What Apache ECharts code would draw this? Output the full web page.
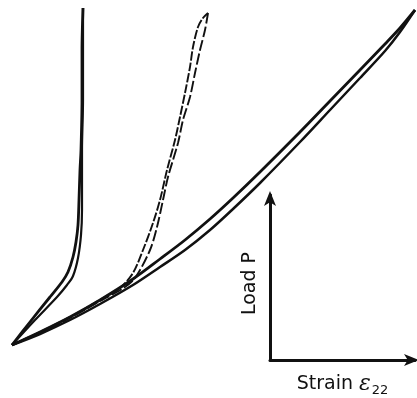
<!DOCTYPE html>
<html><head><meta charset="utf-8">
<script src="https://cdn.jsdelivr.net/npm/echarts@6/dist/echarts.min.js"></script>
<style>html,body{margin:0;padding:0;background:#fff}#c{width:417px;height:398px}</style>
</head><body><div id="c"></div>
<script>
// Schematic units: strain (x) and load (y, measured downward in sketch units, axis inverted)
const curve1Up   = [[12,345],[30,322],[50,297],[62,282],[68,272],[73,257],[76,242],[78,225],[79,200],[80,170],[81,150],[82,100],[82,50],[83,8]];
const curve1Down = [[12,345],[35,320],[57,297],[67,285],[73,276],[78,258],[81,235],[82,210],[82,190],[82,170],[82,150],[83,100],[83,50],[83,8]];
const curve2Up   = [[12,345],[40,332],[70,317],[100,300],[120,288],[133,273],[143,250],[153,223],[160,200],[167,170],[175,140],[180,117],[185,93],[190,67],[193,47],[198,27],[203,18],[208,13]];
const curve2Down = [[12,345],[40,333],[70,318],[100,301],[122,289],[135,278],[150,250],[157,227],[163,200],[168,177],[178,143],[183,120],[190,97],[195,73],[200,50],[205,30],[208,13]];
const curve3Up   = [[12,345],[40,332],[70,317],[100,300],[133,279],[160,259],[185,240],[210,219],[233,198],[260,172],[300,132],[330,101],[360,70],[385,44],[400,28],[415,10]];
const curve3Down = [[12,345],[40,334],[70,320],[100,304],[133,285],[160,267],[185,250],[210,230],[233,209],[260,183],[300,142],[330,110],[360,78],[385,51],[400,32],[415,10]];
const xName = 'Strain';
const yName = 'Load P';

const chart = echarts.init(document.getElementById('c'));
const ln = (d, w, dash) => ({type:'line', xAxisIndex:0, yAxisIndex:0, data:d, showSymbol:false, smooth:0.3,
  lineStyle:{color:'#111', width:w, type: dash || 'solid'}, silent:true, animation:false});
chart.setOption({
  animation:false,
  grid:[{left:0,top:0,width:417,height:398},{left:270,top:195,width:145,height:165}],
  xAxis:[
    {gridIndex:0,type:'value',min:0,max:417,show:false},
    {gridIndex:1,type:'value',min:0,max:1,splitLine:{show:false},axisTick:{show:false},axisLabel:{show:false},
     axisLine:{show:true,onZero:false,symbol:['none','arrow'],symbolSize:[9,15],symbolOffset:[0,4],lineStyle:{color:'#111',width:3}},
     name: xName+' {e|ε}{s|22}', nameLocation:'middle', nameGap:12,
     nameTextStyle:{color:'#111',fontSize:19,fontFamily:'DejaVu Sans',align:'center',padding:[0,0,0,0],
       rich:{e:{fontSize:22,fontFamily:'DejaVu Serif',fontStyle:'italic',color:'#111'},s:{fontSize:13,color:'#111',fontFamily:'DejaVu Sans',padding:[12,0,0,1]}}}}
  ],
  yAxis:[
    {gridIndex:0,type:'value',min:0,max:398,inverse:true,show:false},
    {gridIndex:1,type:'value',min:0,max:1,splitLine:{show:false},axisTick:{show:false},axisLabel:{show:false},
     axisLine:{show:true,onZero:false,symbol:['none','arrow'],symbolSize:[9,15],symbolOffset:[0,4],lineStyle:{color:'#111',width:3}},
     name: yName, nameLocation:'middle', nameGap:10, nameRotate:90,
     nameTextStyle:{color:'#111',fontSize:19,fontFamily:'DejaVu Sans',padding:[0,12,0,0]}}
  ],
  series:[
    ln(curve1Up,2.8), ln(curve1Down,2.2),
    ln(curve2Up,1.9,[9,2]), ln(curve2Down,1.9,[11,3]),
    ln(curve3Up,2.8), ln(curve3Down,2.5)
  ]
});
</script></body></html>
